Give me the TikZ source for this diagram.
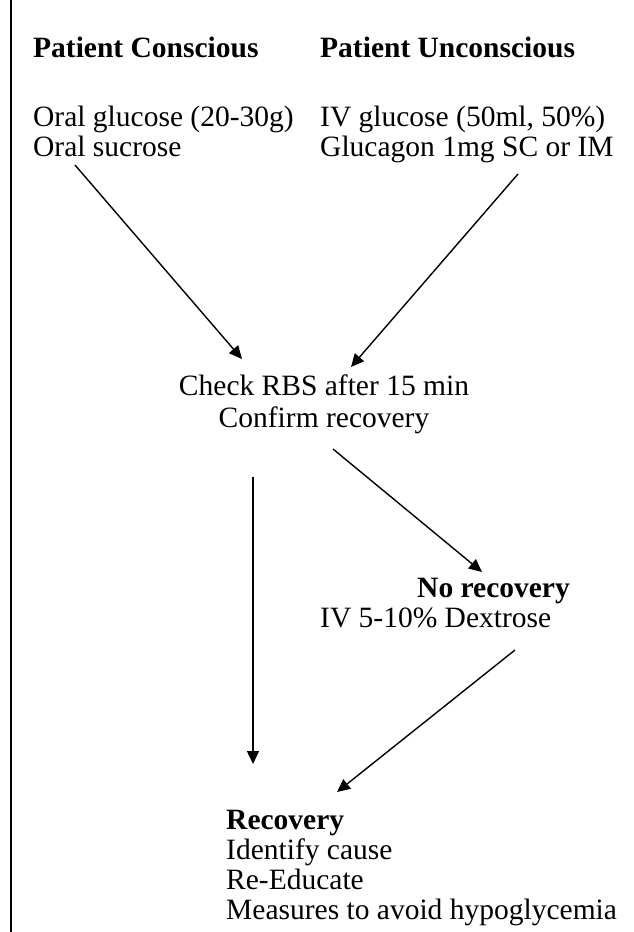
\documentclass[tikz,border=0pt]{standalone}
\usepackage{fontspec}
\setmainfont{Liberation Serif}
\usetikzlibrary{arrows.meta}

\begin{document}
\begin{tikzpicture}[x=1pt,y=-1pt,
    txt/.style={anchor=base west,inner sep=0pt,font=\fontsize{29.5}{30}\selectfont},
    head/.style={txt,font=\fontsize{29.5}{30}\selectfont\bfseries},
    ctxt/.style={txt,anchor=base},
    flow/.style={-{Triangle[length=13pt,width=12pt]},line width=1.4pt}]
  \useasboundingbox (0,0) rectangle (634,932);
  \draw[line width=1.5pt] (11,0) -- (11,932);

  % two starting cases
  \node[head] (conscHead) at (33,57) {Patient Conscious};
  \node[txt] (conscA) at (33,126) {Oral glucose (20-30g)};
  \node[txt] (conscB) at (33,156) {Oral sucrose};
  \node[head] (unconHead) at (320,57) {Patient Unconscious};
  \node[txt] (unconA) at (320,126) {IV glucose (50ml, 50\%)};
  \node[txt] (unconB) at (320,156) {Glucagon 1mg SC or IM};

  % check
  \node[ctxt] (checkA) at (324,395) {Check RBS after 15 min};
  \node[ctxt] (checkB) at (324,427) {Confirm recovery};

  % no recovery
  \node[head] (noHead) at (417,597) {No recovery};
  \node[txt] (noA) at (320,627) {IV 5-10\% Dextrose};

  % recovery
  \node[head] (recHead) at (226,829) {Recovery};
  \node[txt] (recA) at (226,859) {Identify cause};
  \node[txt] (recB) at (226,889) {Re-Educate};
  \node[txt] (recC) at (226,919) {Measures to avoid hypoglycemia};

  % arrow ends
  \coordinate (c1) at (75,165);
  \coordinate (c2) at (242,359);
  \coordinate (u1) at (518,174);
  \coordinate (u2) at (351,367);
  \coordinate (k1) at (333,449);
  \coordinate (k2) at (482,572);
  \coordinate (k3) at (253,477);
  \coordinate (k4) at (253,764);
  \coordinate (n1) at (515,650);
  \coordinate (n2) at (337,792);

  \draw[flow] (c1) -- (c2);
  \draw[flow] (u1) -- (u2);
  \draw[flow] (k1) -- (k2);
  \draw[flow] (k3) -- (k4);
  \draw[flow] (n1) -- (n2);
\end{tikzpicture}
\end{document}
